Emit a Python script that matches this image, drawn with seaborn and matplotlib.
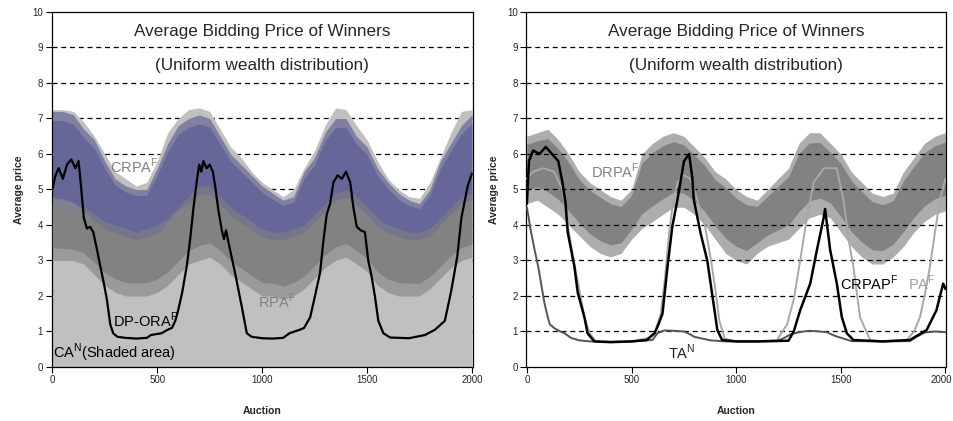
import numpy as np
import pandas as pd
import matplotlib
matplotlib.use("Agg")
import matplotlib.pyplot as plt
import matplotlib.transforms as mtransforms
import seaborn as sns

sns.set_theme(style="white")
plt.rcParams["font.family"] = ["Liberation Sans", "DejaVu Sans"]

# ---------------------------------------------------------------- data
# noisy series are stored as envelopes (lower / upper bound) sampled every 50 auctions
grid50 = list(range(0, 2001, 50))

ca_top = [7.25, 7.25, 7.2, 6.9, 6.5, 6.0, 5.5, 5.3, 5.1, 5.2, 5.8, 6.6, 7.0, 7.25, 7.3, 7.2,
          6.7, 6.2, 5.9, 5.5, 5.2, 5.0, 4.8, 5.0, 5.6, 6.1, 6.8, 7.3, 7.25, 6.8, 6.4, 5.8,
          5.3, 5.0, 4.8, 4.75, 5.2, 5.9, 6.6, 7.2, 7.25]

crpa_hi = [7.2, 7.2, 7.1, 6.7, 6.4, 5.8, 5.3, 5.1, 5.0, 5.0, 5.6, 6.3, 6.8, 7.0, 7.1, 7.0,
           6.5, 6.0, 5.7, 5.4, 5.1, 4.9, 4.7, 4.8, 5.5, 5.9, 6.6, 7.0, 7.0, 6.5, 6.2, 5.6,
           5.2, 4.9, 4.7, 4.6, 5.0, 5.8, 6.3, 6.8, 7.1]
crpa_lo = [4.3, 4.3, 4.2, 4.0, 3.7, 3.4, 3.3, 3.2, 3.1, 3.2, 3.4, 3.7, 4.0, 4.2, 4.3, 4.3,
           4.0, 3.7, 3.4, 3.3, 3.1, 3.0, 3.0, 3.1, 3.3, 3.6, 4.0, 4.2, 4.3, 4.1, 3.8, 3.4,
           3.2, 3.0, 3.0, 3.0, 3.2, 3.5, 3.9, 4.2, 4.3]

rpa_hi = [4.8, 4.7, 4.6, 4.5, 4.3, 4.1, 4.0, 3.9, 3.8, 3.9, 4.0, 4.2, 4.5, 4.8, 5.1, 5.1,
          4.8, 4.5, 4.3, 4.1, 3.9, 3.8, 3.8, 3.9, 4.0, 4.3, 4.6, 4.9, 5.0, 4.8, 4.5, 4.2,
          4.0, 3.9, 3.8, 3.8, 3.9, 4.2, 4.5, 4.8, 4.9]
rpa_lo = [3.0, 3.0, 3.0, 2.9, 2.6, 2.3, 2.1, 2.0, 2.0, 2.0, 2.1, 2.3, 2.6, 2.9, 3.0, 3.1,
          2.9, 2.6, 2.4, 2.2, 2.0, 2.0, 1.9, 2.0, 2.2, 2.5, 2.8, 3.0, 3.1, 2.9, 2.7, 2.3,
          2.1, 2.0, 2.0, 2.0, 2.2, 2.5, 2.8, 3.0, 3.1]

drpa_hi = [6.5, 6.6, 6.7, 6.4, 6.0, 5.5, 5.2, 5.0, 4.8, 4.7, 5.0, 6.0, 6.3, 6.5, 6.6, 6.5,
           6.2, 5.9, 5.5, 5.3, 5.0, 4.8, 4.7, 5.0, 5.3, 5.6, 6.3, 6.6, 6.6, 6.3, 6.0, 5.5,
           5.2, 4.9, 4.8, 4.9, 5.5, 5.9, 6.3, 6.5, 6.6]
drpa_lo = [4.6, 4.7, 4.5, 4.3, 4.0, 3.7, 3.4, 3.2, 3.1, 3.2, 3.6, 3.9, 4.1, 4.3, 4.5, 4.5,
           4.3, 4.0, 3.6, 3.2, 3.0, 2.9, 3.2, 3.4, 3.5, 3.6, 3.9, 4.2, 4.3, 4.2, 3.8, 3.4,
           3.1, 2.9, 2.9, 3.1, 3.4, 3.8, 4.1, 4.3, 4.4]

# smooth series: (auction, price) pairs
dpora_x = [0, 15, 30, 50, 70, 90, 110, 125, 135, 150, 165, 180, 195, 213, 230, 244, 260,
           276, 290, 310, 350, 400, 450, 470, 520, 550, 570, 586, 600, 619, 641, 657, 673,
           690, 700, 710, 720, 735, 750, 765, 776, 792, 808, 818, 828, 840, 871, 903, 927,
           950, 1000, 1050, 1100, 1130, 1180, 1200, 1229, 1252, 1276, 1292, 1308, 1324,
           1340, 1360, 1380, 1400, 1420, 1435, 1451, 1470, 1490, 1506, 1522, 1538, 1554,
           1578, 1610, 1700, 1776, 1824, 1871, 1900, 1930, 1950, 1980, 2000]
dpora_y = [5.0, 5.4, 5.6, 5.3, 5.7, 5.85, 5.6, 5.8, 5.2, 4.2, 3.9, 3.95, 3.8, 3.3, 2.8,
           2.4, 1.9, 1.2, 0.95, 0.85, 0.82, 0.8, 0.82, 0.9, 0.95, 1.05, 1.1, 1.3, 1.6, 2.1,
           2.85, 3.6, 4.5, 5.3, 5.7, 5.5, 5.8, 5.6, 5.7, 5.5, 5.1, 4.4, 3.85, 3.6, 3.85,
           3.5, 2.65, 1.7, 0.95, 0.85, 0.81, 0.8, 0.82, 0.95, 1.05, 1.1, 1.4, 2.0, 2.65,
           3.55, 4.3, 4.6, 5.2, 5.4, 5.3, 5.5, 5.2, 4.5, 3.95, 3.85, 3.8, 3.0, 2.55, 1.98,
           1.3, 0.95, 0.83, 0.81, 0.9, 1.05, 1.3, 2.1, 3.1, 4.2, 5.1, 5.45]

ta_x = [0, 20, 37, 55, 68, 84, 100, 110, 132, 160, 180, 211, 250, 300, 400, 500, 600,
        624, 656, 700, 751, 780, 800, 878, 950, 1100, 1195, 1227, 1260, 1300, 1350, 1400,
        1433, 1470, 1513, 1550, 1700, 1830, 1862, 1900, 1950, 2000]
ta_y = [4.5, 3.8, 3.3, 2.8, 2.35, 1.8, 1.4, 1.2, 1.09, 1.0, 0.95, 0.82, 0.75, 0.72,
        0.71, 0.72, 0.76, 0.95, 1.03, 1.02, 1.0, 0.92, 0.85, 0.75, 0.72, 0.72, 0.73,
        0.81, 0.92, 0.98, 1.02, 1.0, 0.98, 0.88, 0.8, 0.73, 0.72, 0.73, 0.85, 0.97,
        1.0, 0.98]

pa_x = [0, 30, 80, 130, 170, 195, 227, 250, 275, 300, 330, 400, 500, 580, 610, 640, 660,
        680, 700, 720, 750, 780, 800, 830, 850, 880, 900, 920, 945, 1000, 1100, 1195,
        1243, 1275, 1306, 1338, 1370, 1420, 1480, 1513, 1540, 1560, 1592, 1640, 1700,
        1814, 1850, 1878, 1900, 1926, 1950, 1973, 2000]
pa_y = [5.3, 5.5, 5.6, 5.5, 5.0, 4.0, 2.9, 2.2, 1.4, 0.95, 0.72, 0.7, 0.72, 0.82, 0.95,
        1.5, 2.5, 3.8, 4.7, 5.2, 5.4, 5.3, 5.0, 4.4, 4.0, 3.0, 2.2, 1.3, 0.8, 0.72, 0.72,
        0.76, 1.2, 1.9, 3.0, 4.2, 5.2, 5.6, 5.6, 4.7, 3.5, 2.83, 1.4, 0.76, 0.72, 0.76,
        1.0, 1.4, 2.0, 2.83, 3.8, 4.7, 5.3]

crpap_x = [0, 10, 30, 60, 90, 120, 150, 170, 185, 195, 227, 243, 275, 290, 322, 400, 500,
           573, 610, 624, 648, 672, 695, 719, 751, 775, 790, 798, 830, 862, 878, 894, 910,
           933, 1000, 1100, 1250, 1275, 1306, 1354, 1386, 1418, 1425, 1449, 1481, 1505,
           1529, 1560, 1700, 1830, 1910, 1957, 1989, 2000]
crpap_y = [4.6, 5.8, 6.1, 6.0, 6.2, 6.0, 5.8, 5.2, 4.6, 3.8, 2.83, 2.1, 1.4, 0.95, 0.72,
           0.7, 0.72, 0.76, 0.95, 1.13, 1.5, 2.83, 3.96, 4.7, 5.8, 6.0, 5.35, 4.7, 3.77,
           3.0, 2.35, 1.7, 1.04, 0.76, 0.72, 0.72, 0.74, 1.0, 1.6, 2.35, 3.3, 4.2, 4.45,
           3.3, 2.35, 1.4, 0.95, 0.76, 0.72, 0.76, 1.04, 1.6, 2.35, 2.2]

yticks = list(range(0, 11))
xticks = [0, 500, 1000, 1500, 2000]

# ---------------------------------------------------------------- figure
fig = plt.figure(figsize=(9.54, 4.21), dpi=100)
ax_l = fig.add_axes([0.054, 0.1283, 0.4413, 0.8432])
ax_r = fig.add_axes([0.5514, 0.1283, 0.4403, 0.8432])

LIGHT = "#c0c0c0"
BLUE = "#666698"
DARK = "#828282"


def style_axes(ax, grid_z):
    ax.set_xlim(-4, 2003)
    ax.set_ylim(0, 10)
    ax.set_yticks(yticks)
    ax.set_xticks(xticks)
    ax.tick_params(axis="both", labelsize=7, length=4, width=0.8, color="black",
                   direction="out", pad=2, bottom=True, left=True)
    for s in ax.spines.values():
        s.set_color("black")
        s.set_linewidth(0.9)
    for v in range(1, 10):
        ax.axhline(v, color="black", lw=0.9, ls=(0, (4, 3)), zorder=grid_z)
    ax.set_xlabel("Auction", fontsize=7.5, fontweight="bold", labelpad=15)
    ax.set_ylabel("Average price", fontsize=7.5, fontweight="bold", labelpad=6)
    ax.text(1000, 9.45, "Average Bidding Price of Winners", ha="center", va="center",
            fontsize=12.3)
    ax.text(1000, 8.48, "(Uniform wealth distribution)", ha="center", va="center",
            fontsize=12.3)


def noisy_band(ax, lo, hi, color, z, edge_alpha=0.6, core=0.18):
    """Draw a noisy series as its envelope: a sparse outer band and a dense core."""
    lo_a = np.asarray(lo)
    hi_a = np.asarray(hi)
    span = hi_a - lo_a
    ax.fill_between(grid50, lo_a, hi_a, color=color, alpha=edge_alpha, lw=0, zorder=z)
    ax.fill_between(grid50, lo_a + core * span, hi_a - core * span * 0.6, color=color,
                    lw=0, zorder=z + 0.1)


# left panel
style_axes(ax_l, grid_z=0.5)
ax_l.fill_between(grid50, 0, ca_top, color=LIGHT, lw=0, zorder=1)
noisy_band(ax_l, crpa_lo, crpa_hi, BLUE, 2, edge_alpha=0.7, core=0.15)
noisy_band(ax_l, rpa_lo, rpa_hi, DARK, 3, edge_alpha=0.6, core=0.2)
sns.lineplot(x=dpora_x, y=dpora_y, ax=ax_l, color="black", lw=1.6, zorder=4)

sup = r"$^{\mathregular{%s}}$"
ax_l.text(276, 5.65, "CRPA" + sup % "F", color=DARK, fontsize=10.5, va="center", zorder=6)
ax_l.text(980, 1.85, "RPA" + sup % "F", color=DARK, fontsize=10.5, va="center", zorder=6)
ax_l.text(290, 1.3, "DP-ORA" + sup % "F", color="black", fontsize=10.5, va="center", zorder=6)
ax_l.text(5, 0.4, "CA" + sup % "N" + "(Shaded area)", color="black", fontsize=10.5,
          va="center", zorder=6)

# right panel
style_axes(ax_r, grid_z=2.5)
noisy_band(ax_r, drpa_lo, drpa_hi, DARK, 2, edge_alpha=0.65, core=0.2)
sns.lineplot(x=pa_x, y=pa_y, ax=ax_r, color="#a8a8a8", lw=1.4, zorder=3)
sns.lineplot(x=ta_x, y=ta_y, ax=ax_r, color="#555555", lw=1.4, zorder=3.5)
sns.lineplot(x=crpap_x, y=crpap_y, ax=ax_r, color="black", lw=1.8, zorder=4)

ax_r.text(305, 5.5, "DRPA" + sup % "F", color=DARK, fontsize=10.5, va="center", zorder=6)
ax_r.text(676, 0.42, "TA" + sup % "N", color="#222222", fontsize=10.5, va="center", zorder=6)
ax_r.text(1495, 2.37, "CRPAP" + sup % "F", color="black", fontsize=10.5, va="center", zorder=6)
ax_r.text(1819, 2.37, "PA" + sup % "F", color="#a0a0a0", fontsize=10.5, va="center", zorder=6)

# keep the last x tick label of the right panel inside the canvas
last_lbl = ax_r.get_xticklabels()[-1]
last_lbl.set_transform(last_lbl.get_transform() +
                       mtransforms.ScaledTranslation(-4 / 100, 0, fig.dpi_scale_trans))

for ax in (ax_l, ax_r):
    leg = ax.get_legend()
    if leg is not None:
        leg.remove()

fig.savefig("out.png", dpi=100)
